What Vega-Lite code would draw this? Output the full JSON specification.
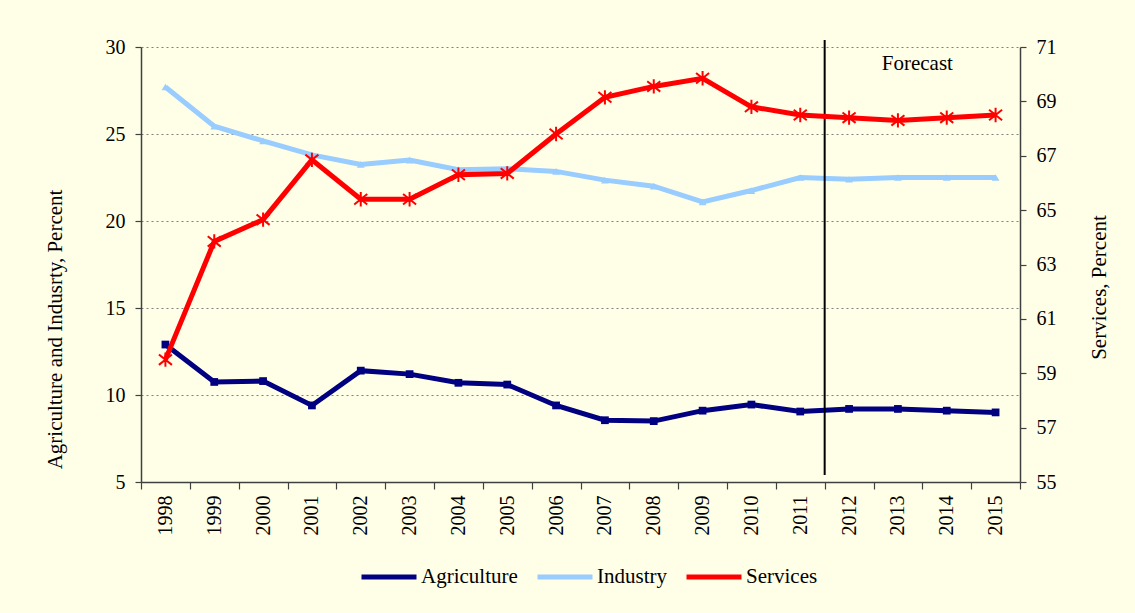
{
  "$schema": "https://vega.github.io/schema/vega-lite/v6.json",
  "width": 879,
  "height": 435,
  "autosize": {"type": "none"},
  "padding": {"left": 141, "top": 47, "right": 115, "bottom": 131},
  "background": "#FFFFE8",
  "config": {
    "font": "Liberation Serif",
    "view": {"stroke": null},
    "axis": {
      "labelFont": "Liberation Serif",
      "titleFont": "Liberation Serif",
      "labelColor": "#000000",
      "titleColor": "#000000",
      "labelFontSize": 20,
      "titleFontSize": 21,
      "titleFontWeight": "normal",
      "domainColor": "#404040",
      "tickColor": "#404040",
      "domainWidth": 1.5,
      "tickWidth": 1.2
    },
    "legend": {
      "labelFont": "Liberation Serif",
      "labelFontSize": 21,
      "labelColor": "#000000"
    }
  },
  "datasets": {
    "main": [
      {"year": "1998", "series": "Agriculture", "value": 12.9},
      {"year": "1999", "series": "Agriculture", "value": 10.75},
      {"year": "2000", "series": "Agriculture", "value": 10.8},
      {"year": "2001", "series": "Agriculture", "value": 9.4},
      {"year": "2002", "series": "Agriculture", "value": 11.4},
      {"year": "2003", "series": "Agriculture", "value": 11.2},
      {"year": "2004", "series": "Agriculture", "value": 10.7},
      {"year": "2005", "series": "Agriculture", "value": 10.6},
      {"year": "2006", "series": "Agriculture", "value": 9.4},
      {"year": "2007", "series": "Agriculture", "value": 8.55},
      {"year": "2008", "series": "Agriculture", "value": 8.5},
      {"year": "2009", "series": "Agriculture", "value": 9.1},
      {"year": "2010", "series": "Agriculture", "value": 9.45},
      {"year": "2011", "series": "Agriculture", "value": 9.05},
      {"year": "2012", "series": "Agriculture", "value": 9.2},
      {"year": "2013", "series": "Agriculture", "value": 9.2},
      {"year": "2014", "series": "Agriculture", "value": 9.1},
      {"year": "2015", "series": "Agriculture", "value": 9.0},
      {"year": "1998", "series": "Industry", "value": 27.7},
      {"year": "1999", "series": "Industry", "value": 25.45},
      {"year": "2000", "series": "Industry", "value": 24.6},
      {"year": "2001", "series": "Industry", "value": 23.8},
      {"year": "2002", "series": "Industry", "value": 23.25},
      {"year": "2003", "series": "Industry", "value": 23.5},
      {"year": "2004", "series": "Industry", "value": 22.95},
      {"year": "2005", "series": "Industry", "value": 23.0},
      {"year": "2006", "series": "Industry", "value": 22.85},
      {"year": "2007", "series": "Industry", "value": 22.35},
      {"year": "2008", "series": "Industry", "value": 22.0},
      {"year": "2009", "series": "Industry", "value": 21.1},
      {"year": "2010", "series": "Industry", "value": 21.75},
      {"year": "2011", "series": "Industry", "value": 22.5},
      {"year": "2012", "series": "Industry", "value": 22.4},
      {"year": "2013", "series": "Industry", "value": 22.5},
      {"year": "2014", "series": "Industry", "value": 22.5},
      {"year": "2015", "series": "Industry", "value": 22.5},
      {"year": "1998", "series": "Services", "value": 59.5},
      {"year": "1999", "series": "Services", "value": 63.85},
      {"year": "2000", "series": "Services", "value": 64.65},
      {"year": "2001", "series": "Services", "value": 66.85},
      {"year": "2002", "series": "Services", "value": 65.4},
      {"year": "2003", "series": "Services", "value": 65.4},
      {"year": "2004", "series": "Services", "value": 66.3},
      {"year": "2005", "series": "Services", "value": 66.35},
      {"year": "2006", "series": "Services", "value": 67.8},
      {"year": "2007", "series": "Services", "value": 69.15},
      {"year": "2008", "series": "Services", "value": 69.55},
      {"year": "2009", "series": "Services", "value": 69.85},
      {"year": "2010", "series": "Services", "value": 68.8},
      {"year": "2011", "series": "Services", "value": 68.5},
      {"year": "2012", "series": "Services", "value": 68.4},
      {"year": "2013", "series": "Services", "value": 68.3},
      {"year": "2014", "series": "Services", "value": 68.4},
      {"year": "2015", "series": "Services", "value": 68.5}
    ],
    "divider": [{"year": "2012", "top": 30.4, "bottom": 5.4}],
    "note": [{"year": "2014", "pos": 29.05, "label": "Forecast"}]
  },
  "layer": [
    {
      "layer": [
        {
          "data": {"name": "main"},
          "transform": [{"filter": "datum.series !== 'Services'"}],
          "mark": {"type": "line", "strokeWidth": 5},
          "encoding": {
            "x": {
              "field": "year",
              "type": "ordinal",
              "bandPosition": 0.5,
              "scale": {
                "type": "band",
                "paddingInner": 0,
                "paddingOuter": 0,
                "domain": ["1998","1999","2000","2001","2002","2003","2004","2005","2006","2007","2008","2009","2010","2011","2012","2013","2014","2015"]
              },
              "axis": {
                "title": null,
                "labelAngle": -90,
                "tickBand": "extent",
                "tickSize": 7,
                "labelPadding": 6,
                "grid": false
              }
            },
            "y": {
              "field": "value",
              "type": "quantitative",
              "scale": {"domain": [5, 30], "nice": false, "zero": false},
              "axis": {
                "orient": "left",
                "values": [5, 10, 15, 20, 25, 30],
                "grid": true,
                "gridDash": [2, 3],
                "gridColor": "#808080",
                "gridWidth": 1,
                "tickSize": 6,
                "labelPadding": 10,
                "title": "Agriculture and Indusrty, Percent",
                "titleFontSize": 21,
                "titleY": 282,
                "titlePadding": 40
              }
            },
            "color": {
              "field": "series",
              "type": "nominal",
              "scale": {
                "domain": ["Agriculture", "Industry", "Services"],
                "range": ["#000080", "#99CCFF", "#FF0000"]
              },
              "legend": {
                "title": null,
                "orient": "none",
                "direction": "horizontal",
                "legendX": 218,
                "legendY": 500,
                "symbolType": "M-1,0L1,0",
                "symbolSize": 3025,
                "symbolStrokeWidth": 5,
                "columnPadding": 9,
                "labelOffset": 2
              }
            }
          }
        },
        {
          "data": {"name": "main"},
          "transform": [{"filter": "datum.series !== 'Services'"}],
          "mark": {"type": "point", "filled": true, "opacity": 1, "size": 60},
          "encoding": {
            "x": {"field": "year", "type": "ordinal", "bandPosition": 0.5},
            "y": {"field": "value", "type": "quantitative"},
            "color": {"field": "series", "type": "nominal"},
            "shape": {
              "field": "series",
              "type": "nominal",
              "scale": {"domain": ["Agriculture", "Industry"], "range": ["square", "triangle-up"]},
              "legend": null
            }
          }
        },
        {
          "data": {"name": "divider"},
          "mark": {"type": "rule", "color": "#000000", "strokeWidth": 2},
          "encoding": {
            "x": {"field": "year", "type": "ordinal", "bandPosition": 0},
            "y": {"field": "top", "type": "quantitative"},
            "y2": {"field": "bottom"}
          }
        },
        {
          "data": {"name": "note"},
          "mark": {"type": "text", "fontSize": 21, "font": "Liberation Serif", "color": "#000000", "align": "center", "baseline": "middle", "dx": -5},
          "encoding": {
            "x": {"field": "year", "type": "ordinal", "bandPosition": 0},
            "y": {"field": "pos", "type": "quantitative"},
            "text": {"field": "label"}
          }
        }
      ]
    },
    {
      "data": {"name": "main"},
      "transform": [{"filter": "datum.series === 'Services'"}],
      "encoding": {
        "x": {"field": "year", "type": "ordinal", "bandPosition": 0.5},
        "y": {
          "field": "value",
          "type": "quantitative",
          "scale": {"domain": [55, 71], "nice": false, "zero": false},
          "axis": {
            "orient": "right",
            "values": [55, 57, 59, 61, 63, 65, 67, 69, 71],
            "grid": false,
            "tickSize": 6,
            "labelPadding": 10,
            "title": "Services, Percent",
            "titleAngle": -90,
            "titleY": 240,
            "titlePadding": 53
          }
        },
        "color": {"field": "series", "type": "nominal"}
      },
      "layer": [
        {"mark": {"type": "line", "strokeWidth": 5}},
        {"mark": {"type": "point", "filled": false, "opacity": 1, "size": 170, "strokeWidth": 2, "shape": "M-1,-0.8L1,0.8M1,-0.8L-1,0.8M0,-1.1L0,1.1"}}
      ]
    }
  ],
  "resolve": {"scale": {"y": "independent"}}
}
